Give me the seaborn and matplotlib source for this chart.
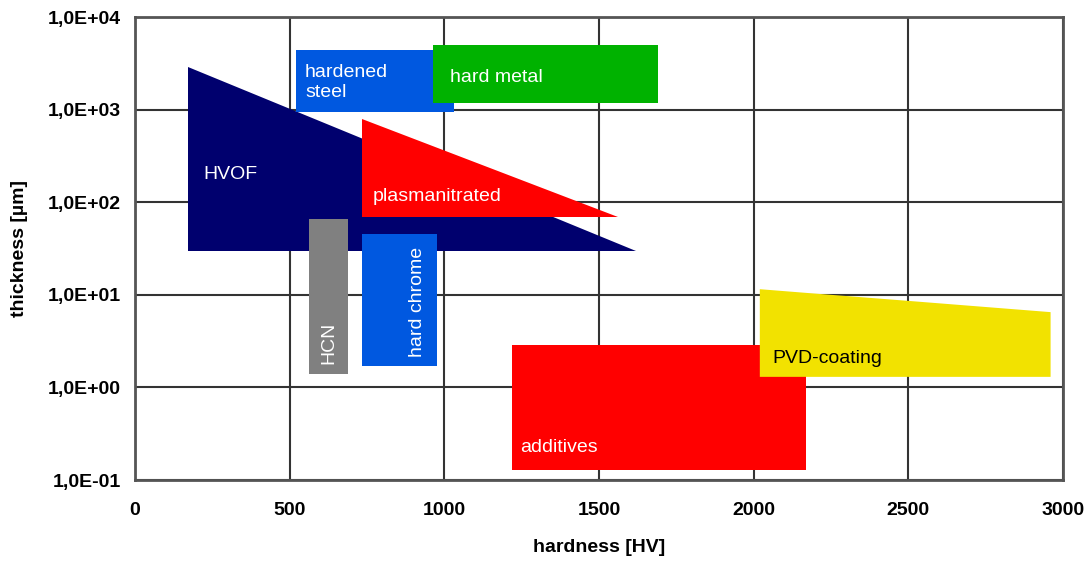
import numpy as np
import matplotlib
matplotlib.use("Agg")
import matplotlib.pyplot as plt
import seaborn as sns
from matplotlib.ticker import FixedLocator, FuncFormatter

# coating regions: hardness [HV] vs thickness [um], polygon outlines
hvof_hv = [170, 170, 1620]
hvof_um = [2900, 30, 30]
steel_hv = [520, 1030, 1030, 520]
steel_um = [950, 950, 4400, 4400]
metal_hv = [965, 1690, 1690, 965]
metal_um = [1180, 1180, 5000, 5000]
plasma_hv = [735, 735, 1560]
plasma_um = [790, 70, 70]
hcn_hv = [563, 690, 690, 563]
hcn_um = [1.4, 1.4, 66, 66]
chrome_hv = [734, 976, 976, 734]
chrome_um = [1.7, 1.7, 45, 45]
additives_hv = [1220, 2170, 2170, 1220]
additives_um = [0.128, 0.128, 2.85, 2.85]
pvd_hv = [2020, 2020, 2200, 2500, 2960, 2960]
pvd_um = [1.3, 11.5, 10.3, 8.6, 6.5, 1.3]

x_ticks = [0, 500, 1000, 1500, 2000, 2500, 3000]
y_ticks = [0.1, 1, 10, 100, 1000, 10000]
y_tick_labels = ["1,0E-01", "1,0E+00", "1,0E+01", "1,0E+02", "1,0E+03", "1,0E+04"]

sns.set_style("white")
plt.rcParams["font.family"] = ["Liberation Sans", "DejaVu Sans"]
plt.rcParams["text.color"] = "black"
plt.rcParams["axes.labelcolor"] = "black"
plt.rcParams["xtick.color"] = "black"
plt.rcParams["ytick.color"] = "black"

fig = plt.figure(figsize=(10.91, 5.62), dpi=100)
ax = fig.add_axes([0.1237, 0.1459, 0.8506, 0.8238])

shapes = [
    (hvof_hv, hvof_um, "#00006E"),
    (steel_hv, steel_um, "#0058E0"),
    (metal_hv, metal_um, "#00B200"),
    (plasma_hv, plasma_um, "#FF0000"),
    (hcn_hv, hcn_um, "#808080"),
    (chrome_hv, chrome_um, "#0058E0"),
    (additives_hv, additives_um, "#FF0000"),
    (pvd_hv, pvd_um, "#F2E200"),
]
for xs, ys, col in shapes:
    ax.fill(xs, ys, color=col, lw=0, zorder=2)

lab = dict(color="white", fontsize=14, zorder=3)
ax.text(550, 1950, "hardened\nsteel", va="center", ha="left", linespacing=1.2, **lab)
ax.text(1020, 2200, "hard metal", va="center", ha="left", **lab)
ax.text(220, 197, "HVOF", va="center", ha="left", **lab)
ax.text(770, 114, "plasmanitrated", va="center", ha="left", **lab)
ax.text(626, 3.0, "HCN", va="center", ha="center", rotation=90, **lab)
ax.text(915, 8.4, "hard chrome", va="center", ha="center", rotation=90, **lab)
ax.text(1245, 0.225, "additives", va="center", ha="left", **lab)
ax.text(2060, 2.07, "PVD-coating", va="center", ha="left", color="black",
        fontsize=14, zorder=3)

ax.set_yscale("log")
ax.set_xlim(0, 3000)
ax.set_ylim(0.1, 10000)
ax.xaxis.set_major_locator(FixedLocator(x_ticks))
ax.yaxis.set_major_locator(FixedLocator(y_ticks))
ax.yaxis.set_minor_locator(FixedLocator([]))
ax.yaxis.set_major_formatter(FuncFormatter(lambda v, p: y_tick_labels[y_ticks.index(v)]
                                           if v in y_ticks else ""))
ax.grid(True, color="#333333", lw=1.5)
ax.set_axisbelow(True)
for s in ax.spines.values():
    s.set_color("#555555")
    s.set_linewidth(2)
ax.tick_params(axis="both", length=0, labelsize=14)
ax.tick_params(axis="x", pad=16)
ax.tick_params(axis="y", pad=10)
for t in ax.get_xticklabels() + ax.get_yticklabels():
    t.set_fontweight("bold")
ax.set_xlabel("hardness [HV]", fontsize=14, fontweight="bold", labelpad=14)
ax.set_ylabel("thickness [µm]", fontsize=14, fontweight="bold", labelpad=14)

fig.savefig("out.png", dpi=100, facecolor="white")
